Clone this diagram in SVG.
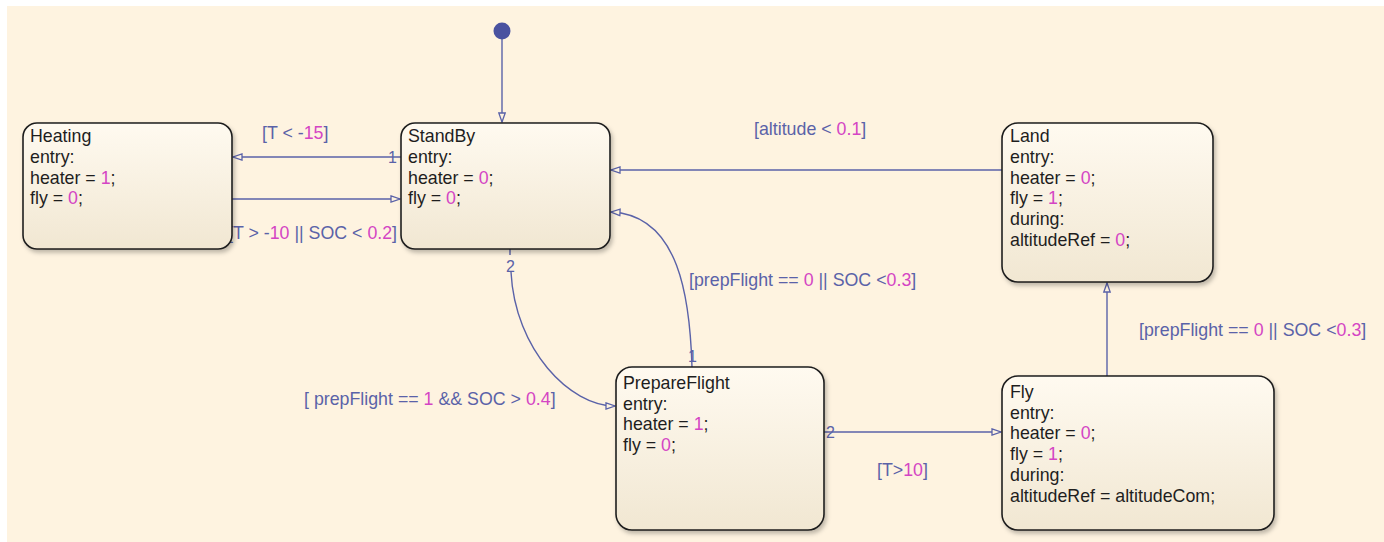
<svg xmlns="http://www.w3.org/2000/svg" width="1384" height="542" viewBox="0 0 1384 542">
<style>
.st{fill:url(#g);stroke:#1e1e1e;stroke-width:1.6;filter:url(#sh)}
.t{font-family:"Liberation Sans",Arial,sans-serif;font-size:17.8px;fill:#1e1e1e}
.n{fill:#d445c4}
.lb{font-family:"Liberation Sans",Arial,sans-serif;font-size:17.8px;fill:#5a62a8}
.num{font-family:"Liberation Sans",Arial,sans-serif;font-size:16px;fill:#5a62a8}
.c{fill:none;stroke:#5a62a8;stroke-width:1.4}
</style>
<defs>
<linearGradient id="g" x1="0" y1="0" x2="0" y2="1">
<stop offset="0" stop-color="#fffaf0"/>
<stop offset="1" stop-color="#f1e7d2"/>
</linearGradient>
<filter id="sh" x="-5%" y="-5%" width="115%" height="120%">
<feDropShadow dx="2" dy="3" stdDeviation="2" flood-color="#000" flood-opacity="0.25"/>
</filter>
<marker id="ah" markerWidth="12" markerHeight="10" refX="10" refY="5" orient="auto" markerUnits="userSpaceOnUse">
<path d="M1,1.8 L10,5 L1,8.2 Z" fill="#fef3e0" stroke="#5a62a8" stroke-width="1.3"/>
</marker>
</defs>
<rect x="0" y="0" width="1384" height="542" fill="#ffffff"/>
<rect x="7" y="6" width="1377" height="536" fill="#fef3e0"/>

<g id="connectors">
<circle cx="502" cy="31" r="8.5" fill="#4a52a0"/>
<path class="c" d="M502,39 L502,122" marker-end="url(#ah)"/>
<path class="c" d="M401,157 L233,157" marker-end="url(#ah)"/>
<path class="c" d="M232,199 L400,199" marker-end="url(#ah)"/>
<path class="c" d="M1002,170 L611,170" marker-end="url(#ah)"/>
<path class="c" d="M692,367 C690,300 680,215 611,212" marker-end="url(#ah)"/>
<path class="c" d="M510,249 L510,255"/>
<path class="c" d="M511,272 C515,350 570,406 615,406" marker-end="url(#ah)"/>
<path class="c" d="M824,432 L1001,432" marker-end="url(#ah)"/>
<path class="c" d="M1107,376 L1107,283" marker-end="url(#ah)"/>
<text class="num" x="388" y="163">1</text>
<text class="num" x="506" y="272">2</text>
<text class="num" x="688" y="362">1</text>
<text class="num" x="826" y="438">2</text>
<text class="lb" x="262" y="139">[T &lt; -<tspan class="n">15</tspan>]</text>
<text class="lb" x="228" y="239">[T &gt; -<tspan class="n">10</tspan> || SOC &lt; <tspan class="n">0.2</tspan>]</text>
<text class="lb" x="754" y="135">[altitude &lt; <tspan class="n">0.1</tspan>]</text>
<text class="lb" x="689" y="286">[prepFlight == <tspan class="n">0</tspan> || SOC &lt;<tspan class="n">0.3</tspan>]</text>
<text class="lb" x="1139" y="336">[prepFlight == <tspan class="n">0</tspan> || SOC &lt;<tspan class="n">0.3</tspan>]</text>
<text class="lb" x="304" y="405">[ prepFlight == <tspan class="n">1</tspan> &amp;&amp; SOC &gt; <tspan class="n">0.4</tspan>]</text>
<text class="lb" x="877" y="476">[T&gt;<tspan class="n">10</tspan>]</text>
</g>

<g id="Heating">
<rect class="st" x="23" y="123" width="209" height="126" rx="14"/>
<text class="t" x="30" y="142">Heating</text>
<text class="t" x="30" y="163">entry:</text>
<text class="t" x="30" y="184">heater = <tspan class="n">1</tspan>;</text>
<text class="t" x="30" y="204">fly = <tspan class="n">0</tspan>;</text>
</g>

<g id="StandBy">
<rect class="st" x="401" y="123" width="209" height="126" rx="14"/>
<text class="t" x="408" y="142">StandBy</text>
<text class="t" x="408" y="163">entry:</text>
<text class="t" x="408" y="184">heater = <tspan class="n">0</tspan>;</text>
<text class="t" x="408" y="204">fly = <tspan class="n">0</tspan>;</text>
</g>

<g id="Land">
<rect class="st" x="1002" y="123" width="211" height="159" rx="16"/>
<text class="t" x="1010" y="142">Land</text>
<text class="t" x="1010" y="163">entry:</text>
<text class="t" x="1010" y="184">heater = <tspan class="n">0</tspan>;</text>
<text class="t" x="1010" y="204">fly = <tspan class="n">1</tspan>;</text>
<text class="t" x="1010" y="225">during:</text>
<text class="t" x="1010" y="246">altitudeRef = <tspan class="n">0</tspan>;</text>
</g>

<g id="PrepareFlight">
<rect class="st" x="616" y="367" width="208" height="163" rx="16"/>
<text class="t" x="623" y="389">PrepareFlight</text>
<text class="t" x="623" y="410">entry:</text>
<text class="t" x="623" y="430">heater = <tspan class="n">1</tspan>;</text>
<text class="t" x="623" y="451">fly = <tspan class="n">0</tspan>;</text>
</g>

<g id="Fly">
<rect class="st" x="1002" y="376" width="272" height="154" rx="16"/>
<text class="t" x="1010" y="398">Fly</text>
<text class="t" x="1010" y="419">entry:</text>
<text class="t" x="1010" y="439">heater = <tspan class="n">0</tspan>;</text>
<text class="t" x="1010" y="460">fly = <tspan class="n">1</tspan>;</text>
<text class="t" x="1010" y="481">during:</text>
<text class="t" x="1010" y="502">altitudeRef = altitudeCom;</text>
</g>
</svg>
